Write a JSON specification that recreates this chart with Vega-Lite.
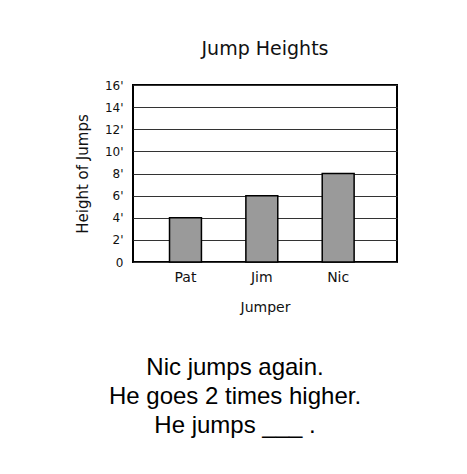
{
  "$schema": "https://vega.github.io/schema/vega-lite/v6.json",
  "background": "white",
  "padding": {"left": 74, "top": 39, "right": 10, "bottom": 10},
  "config": {"font": "DejaVu Sans"},
  "spacing": 39,
  "vconcat": [
    {
      "width": 264,
      "height": 177,
      "title": {"text": "Jump Heights", "font": "DejaVu Sans", "fontSize": 19, "fontWeight": "normal", "anchor": "middle", "frame": "group", "offset": 20, "color": "#111"},
      "view": {"stroke": "#000", "strokeWidth": 2},
      "data": {"values": [
        {"jumper": "Pat", "height": 4},
        {"jumper": "Jim", "height": 6},
        {"jumper": "Nic", "height": 8}
      ]},
      "mark": {"type": "bar", "fill": "#9a9a9a", "stroke": "#000", "strokeWidth": 1.5},
      "encoding": {
        "x": {"field": "jumper", "type": "nominal", "sort": null,
          "scale": {"paddingInner": 0.582, "paddingOuter": 0.52, "align": 0.46},
          "axis": {"title": "Jumper", "labelAngle": 0, "ticks": false, "domain": false, "labelPadding": 8, "labelFontSize": 14, "labelColor": "#111", "titleFontSize": 14, "titleFontWeight": "normal", "titlePadding": 16, "titleColor": "#111"}},
        "y": {"field": "height", "type": "quantitative",
          "scale": {"domain": [0, 16], "nice": false},
          "axis": {"title": "Height of Jumps", "values": [0, 2, 4, 6, 8, 10, 12, 14, 16], "labelExpr": "datum.value == 0 ? '0' : datum.value + \"'\"", "ticks": false, "domain": false, "labelPadding": 10, "labelFontSize": 12, "labelColor": "#111", "titleFontSize": 15, "titleFontWeight": "normal", "titlePadding": 14, "titleColor": "#111", "grid": true, "gridColor": "#333", "gridWidth": 1}}
      }
    },
    {
      "width": 204,
      "height": 86,
      "view": {"stroke": null},
      "data": {"values": [
        {"order": 1, "line": "Nic jumps again."},
        {"order": 2, "line": "He goes 2 times higher."},
        {"order": 3, "line": "He jumps ___ ."}
      ]},
      "mark": {"type": "text", "font": "Liberation Sans", "fontSize": 24, "align": "center", "baseline": "middle", "color": "#000"},
      "encoding": {
        "y": {"field": "order", "type": "ordinal", "axis": null},
        "text": {"field": "line"}
      }
    }
  ]
}
